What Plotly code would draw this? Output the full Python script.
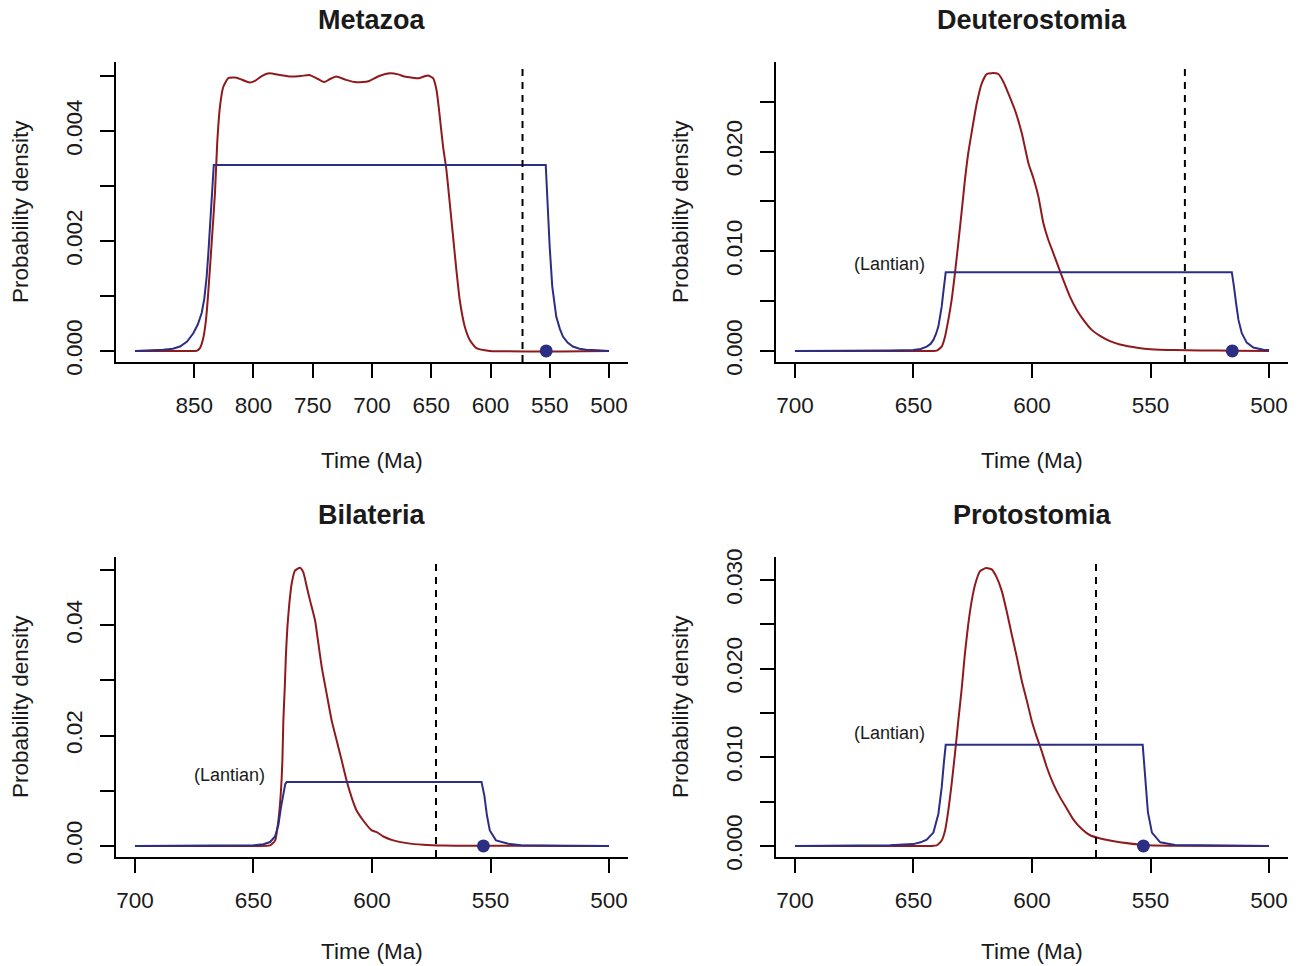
import plotly.graph_objects as go

# ---------------- data ----------------
titles = ["Metazoa", "Deuterostomia", "Bilateria", "Protostomia"]

# Metazoa
meta_red_t = [900, 860, 848.0, 845.2, 842.4, 840.1, 838.2, 835.3, 832.5, 830.6, 828.3, 825.5, 821.3,
              814.2, 807.2, 803.0, 798.8, 793.0, 786.8, 778.0, 768.6, 760.0, 752.9, 746.0, 740.7,
              735.0, 730.2, 722.0, 714.5, 708.0, 702.3, 694.0, 684.8, 678.0, 672.6, 666.0, 660.3,
              655.0, 652.7, 648.5, 645.6, 642.8, 640.0, 637.2, 634.4, 631.6, 628.8, 626.0, 621.7,
              617.5, 611.9, 600.7, 500]
meta_red_d = [0, 0, 0, 0.00005, 0.00023, 0.00056, 0.00105, 0.00196, 0.00287, 0.00378, 0.00444, 0.0048, 0.00496,
              0.00497, 0.00491, 0.00488, 0.00491, 0.00500, 0.00505, 0.00502, 0.00499, 0.00500, 0.00502, 0.00495, 0.00489,
              0.00495, 0.00499, 0.00493, 0.00489, 0.00489, 0.00491, 0.00500, 0.00505, 0.00503, 0.00499, 0.00497, 0.00496,
              0.00500, 0.00501, 0.00496, 0.00475, 0.00426, 0.00371, 0.00329, 0.00269, 0.00208, 0.00147, 0.00093, 0.00044,
              0.00020, 0.00005, 0, 0]
meta_blue_t = [900, 885, 876.1, 868, 862, 856, 850.8, 847, 843.7, 841.5, 839.5, 838, 836.7, 835.5, 834.5, 833.5,
               553.4, 552.5, 551.5, 550.1, 547.9, 546, 544.5, 541.5, 538.9, 535, 530.5, 525, 519.3, 510, 500]
meta_blue_d = [0, 0.00001, 0.00002, 0.00004, 0.00008, 0.00017, 0.00032, 0.00048, 0.00069, 0.00095, 0.00135, 0.0018,
               0.00226, 0.0027, 0.00317, 0.00338,
               0.00338, 0.0029, 0.00256, 0.0019, 0.00117, 0.0008, 0.00062, 0.0004, 0.00026, 0.00015, 0.00008,
               0.00004, 0.00002, 0.00001, 0]

# Deuterostomia
deut_red_t = [700, 650, 642, 640.2, 638.1, 636.7, 635.3, 633.9, 632.5, 631.1, 629.6, 628.3, 626.9, 625.4, 623.3,
              621.2, 619.1, 617.0, 614.2, 612.1, 610.0, 607.2, 604.3, 601.5, 599.4, 597.3, 595.2, 593.1, 591.0,
              588.9, 586.8, 584.0, 581.1, 578.3, 574.8, 571.3, 567.1, 562.9, 555, 550, 540, 529, 515, 500]
deut_red_d = [0, 0, 0, 0.00002, 0.00043, 0.00143, 0.00311, 0.00512, 0.0078, 0.0108, 0.01414, 0.01715, 0.01983,
              0.022, 0.02484, 0.02685, 0.02778, 0.02787, 0.02778, 0.02701, 0.02585, 0.02417, 0.02184, 0.01883,
              0.01732, 0.01548, 0.01281, 0.01113, 0.0098, 0.00846, 0.00712, 0.00545, 0.00411, 0.00311, 0.00211,
              0.0015, 0.00098, 0.00065, 0.0003, 0.00017, 0.00008, 0.00005, 0.00002, 0]
deut_blue_t = [700, 670, 660, 650.1, 647, 644.4, 642.8, 641.6, 640.5, 639.5, 638.7, 638.1, 637.6, 637.1, 636.4,
               515.7, 515.2, 514.8, 513.9, 512.9, 511.5, 509.4, 506.6, 502.4, 500]
deut_blue_d = [0, 0.00001, 0.00005, 0.0001, 0.0002, 0.00043, 0.0007, 0.0011, 0.0017, 0.00244, 0.0034, 0.00444,
               0.0055, 0.00645, 0.0079,
               0.0079, 0.0072, 0.00645, 0.00478, 0.00311, 0.00177, 0.00083, 0.00033, 0.00012, 0.0001]

# Bilateria
bila_red_t = [700, 650, 643, 640.9, 639.5, 638.5, 637.8, 637.4, 636.8, 636.3, 635.7, 634.9, 633.9, 632.5, 630.4,
              629.0, 627.5, 626.1, 624.0, 622.6, 621.2, 619.1, 617.0, 614.9, 612.8, 610.7, 608.6, 606.5, 603.7,
              600.1, 598.0, 595.2, 591.0, 585.3, 578.3, 570, 560, 500]
bila_red_d = [0, 0, 0.0001, 0.00096, 0.0046, 0.0094, 0.0155, 0.0227, 0.0287, 0.0348, 0.0396, 0.0438, 0.0475,
              0.0499, 0.0504, 0.0496, 0.0469, 0.0444, 0.0408, 0.0366, 0.0324, 0.0275, 0.0227, 0.0191, 0.0155,
              0.0118, 0.0088, 0.0064, 0.0046, 0.0028, 0.0025, 0.0017, 0.001, 0.0005, 0.0002, 0.00005, 0.00002, 0]
bila_blue_t = [700, 670, 660, 650, 645.8, 643.0, 640.9, 639.5, 638.4, 637.4, 636.6, 636.0,
               553.8, 552.6, 551.5, 550.3, 547.7, 542.5, 537.2, 520, 500]
bila_blue_d = [0, 0.00001, 0.00003, 0.00012, 0.0003, 0.0007, 0.0017, 0.0038, 0.007, 0.0094, 0.0112, 0.0116,
               0.0116, 0.0091, 0.0055, 0.0028, 0.001, 0.0004, 0.0001, 0.00002, 0]

# Protostomia
prot_red_t = [700, 650, 642, 640.2, 638.1, 636.7, 635.3, 633.9, 632.5, 631.1, 629.6, 628.3, 626.9, 625.4, 624.0,
              621.9, 619.4, 617.0, 614.9, 612.8, 610.7, 608.6, 606.4, 604.3, 602.2, 600.1, 598.0, 595.9, 593.8,
              591.0, 588.2, 585.3, 582.6, 579.0, 575.5, 572.0, 567.1, 562.9, 552.7, 541.8, 500]
prot_red_d = [0, 0, 0, 0.00005, 0.0006, 0.0017, 0.004, 0.007, 0.0104, 0.0141, 0.0179, 0.0217, 0.025, 0.0277,
              0.0295, 0.031, 0.03134, 0.0312, 0.0303, 0.0288, 0.0265, 0.0239, 0.0213, 0.0186, 0.0164, 0.0141,
              0.0123, 0.0107, 0.0089, 0.007, 0.0055, 0.0042, 0.003, 0.0019, 0.0012, 0.0009, 0.0006, 0.0004,
              0.0001, 0.00002, 0]
prot_blue_t = [700, 670, 660, 650.1, 647, 644.4, 641.6, 639.5, 638.1, 637.1, 636.4,
               553.3, 552.3, 551.1, 549.4, 545.9, 539.7, 520, 500]
prot_blue_d = [0, 0.00002, 0.00008, 0.0002, 0.0004, 0.0007, 0.0015, 0.0036, 0.0066, 0.0096, 0.0114,
               0.0114, 0.0076, 0.0038, 0.0015, 0.0004, 0.0001, 0.00002, 0]

dashed_t = [573, 535.5, 573, 573]
fossil_t = [553, 515.5, 553, 553]
lantian_label = [None, (660, 0.0087), (660, 0.0129), (660, 0.0127)]

x_ticks = [[850, 800, 750, 700, 650, 600, 550, 500],
           [700, 650, 600, 550, 500],
           [700, 650, 600, 550, 500],
           [700, 650, 600, 550, 500]]
y_ticks = [[0, 0.001, 0.002, 0.003, 0.004, 0.005],
           [0, 0.005, 0.010, 0.015, 0.020, 0.025],
           [0, 0.01, 0.02, 0.03, 0.04, 0.05],
           [0, 0.005, 0.010, 0.015, 0.020, 0.025, 0.030]]
y_ticktext = [["0.000", "", "0.002", "", "0.004", ""],
              ["0.000", "", "0.010", "", "0.020", ""],
              ["0.00", "", "0.02", "", "0.04", ""],
              ["0.000", "", "0.010", "", "0.020", "", "0.030"]]
y_max = [0.005053, 0.027872, 0.05034, 0.03134]
x_lims = [(916, 484), (708, 492), (708, 492), (708, 492)]

reds = [(meta_red_t, meta_red_d), (deut_red_t, deut_red_d), (bila_red_t, bila_red_d), (prot_red_t, prot_red_d)]
blues = [(meta_blue_t, meta_blue_d), (deut_blue_t, deut_blue_d), (bila_blue_t, bila_blue_d), (prot_blue_t, prot_blue_d)]

# ---------------- layout ----------------
W, H = 1299, 966
RED = "#8E1A1E"
BLUE = "#2B2E83"
FONT = "Liberation Sans, Arial, Helvetica, sans-serif"
TXT = "#1a1a1a"

# pixel boxes of plot regions: (left, right, top, bottom)
boxes = [(116, 628, 62, 362), (776, 1288, 62, 362), (116, 628, 557, 857), (776, 1288, 557, 857)]
xtitle_off = [98, 98, 94, 94]

fig = go.Figure()
layout = dict(width=W, height=H, margin=dict(l=0, r=0, t=0, b=0, pad=0, autoexpand=False),
              paper_bgcolor="white", plot_bgcolor="white", showlegend=False,
              font=dict(family=FONT, color=TXT, size=22))
annotations = []
shapes = []

for i in range(4):
    sfx = "" if i == 0 else str(i + 1)
    xa, ya = "x" + sfx, "y" + sfx
    l, r, t, b = boxes[i]
    xd = [l / W, r / W]
    yd = [1 - b / H, 1 - t / H]
    M = y_max[i]
    layout["xaxis" + sfx] = dict(domain=xd, anchor=ya, range=list(x_lims[i]), automargin=False,
                                 tickvals=x_ticks[i], ticktext=[str(v) for v in x_ticks[i]],
                                 showgrid=False, zeroline=False, showline=True, linecolor="black",
                                 linewidth=2, ticks="outside", ticklen=14, tickwidth=2, tickcolor="black",
                                 tickfont=dict(size=22.5, family=FONT, color=TXT), ticklabelstandoff=8)
    layout["yaxis" + sfx] = dict(domain=yd, anchor=xa, range=[-0.04 * M, 1.04 * M], automargin=False,
                                 tickvals=y_ticks[i], ticktext=y_ticktext[i], tickangle=-90,
                                 showgrid=False, zeroline=False, showline=True, linecolor="black",
                                 linewidth=2, ticks="outside", ticklen=14, tickwidth=2, tickcolor="black",
                                 tickfont=dict(size=22.5, family=FONT, color=TXT), ticklabelstandoff=9)

    rt, rd = reds[i]
    bt, bd = blues[i]
    fig.add_trace(go.Scatter(x=rt, y=rd, mode="lines", line=dict(color=RED, width=2, shape="spline", smoothing=0.5),
                             xaxis=xa, yaxis=ya, hoverinfo="skip"))
    fig.add_trace(go.Scatter(x=bt, y=bd, mode="lines", line=dict(color=BLUE, width=2),
                             xaxis=xa, yaxis=ya, hoverinfo="skip"))
    fig.add_trace(go.Scatter(x=[fossil_t[i]], y=[0], mode="markers",
                             marker=dict(color=BLUE, size=13, line=dict(width=0)),
                             xaxis=xa, yaxis=ya, hoverinfo="skip"))

    shapes.append(dict(type="line", xref=xa, yref=ya + " domain", x0=dashed_t[i], x1=dashed_t[i],
                       y0=0, y1=0.98, line=dict(color="black", width=2, dash="7px,6px")))

    cx = (l + r) / 2 / W
    annotations.append(dict(text="<b>%s</b>" % titles[i], x=cx, y=1 - (t - 42) / H, xref="paper", yref="paper",
                            showarrow=False, font=dict(size=27, family=FONT, color=TXT),
                            xanchor="center", yanchor="middle"))
    annotations.append(dict(text="Time (Ma)", x=cx, y=1 - (b + xtitle_off[i]) / H, xref="paper", yref="paper",
                            showarrow=False, font=dict(size=22.5, family=FONT, color=TXT),
                            xanchor="center", yanchor="middle"))
    annotations.append(dict(text="Probability density", x=(l - 96) / W, y=1 - (t + b) / 2 / H,
                            xref="paper", yref="paper", textangle=-90, showarrow=False,
                            font=dict(size=22.5, family=FONT, color=TXT), xanchor="center", yanchor="middle"))
    if lantian_label[i] is not None:
        lx, ly = lantian_label[i]
        annotations.append(dict(text="(Lantian)", x=lx, y=ly, xref=xa, yref=ya, showarrow=False,
                                font=dict(size=18, family=FONT, color=TXT), xanchor="center", yanchor="middle"))

layout["annotations"] = annotations
layout["shapes"] = shapes
fig.update_layout(**layout)
fig.write_html("out.html")
